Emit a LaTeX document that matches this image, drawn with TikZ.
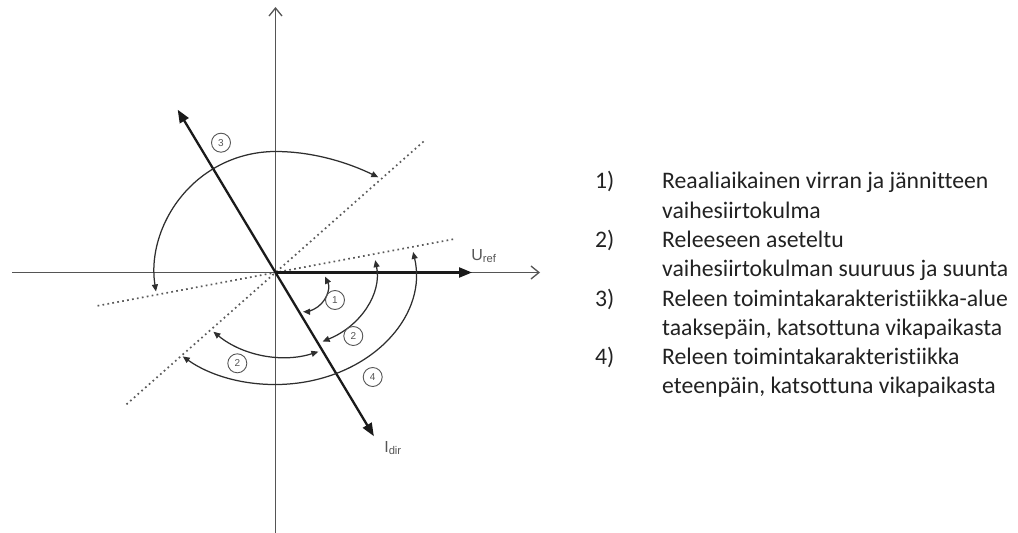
\documentclass[tikz,border=0pt]{standalone}
\usepackage{fontspec}
\setmainfont{Carlito}[Ligatures=NoCommon]
\newfontfamily\lblfont{Liberation Sans}
\usetikzlibrary{arrows.meta,calc}
\definecolor{axisgray}{HTML}{555555}
\definecolor{vecblack}{HTML}{1A1A1A}
\definecolor{arcgray}{HTML}{2E2E2E}
\definecolor{dotgray}{HTML}{5A5A5A}
\definecolor{txtgray}{HTML}{222222}
\begin{document}
\begin{tikzpicture}[x=1pt,y=1pt,
  axis/.style={draw=axisgray,line width=1.3pt,-{Straight Barb[length=8pt,width=13pt]}},
  vec/.style={draw=vecblack,line width=2.3pt},
  dotline/.style={draw=dotgray,line width=1.7pt,dash pattern=on 1.7pt off 3.3pt},
  arcarrow/.style={draw=arcgray,line width=1.25pt,{Triangle[length=7pt,width=6pt]}-{Triangle[length=7pt,width=6pt]}},
  circnum/.style={draw=axisgray,circle,line width=0.9pt,inner sep=0pt,minimum size=19pt,font=\lblfont\fontsize{10}{10}\selectfont,text=axisgray},
  lbl/.style={font=\lblfont\fontsize{16}{16}\selectfont,text=axisgray,inner sep=0pt},
  leg/.style={anchor=base west,inner sep=0pt,text=txtgray,font=\fontsize{23.7}{29.3}\selectfont}]
\path[use as bounding box] (0,0) rectangle (1018,-533);
\coordinate (O) at (275.5,-272.5);
% axes
\coordinate (yb) at (275.5,-533);
\coordinate (yt) at (275.5,-7);
\coordinate (xl) at (12,-272.5);
\coordinate (xr) at (540,-272.5);
\draw[axis] (yb) -- (yt);
\draw[axis] (xl) -- (xr);
% dotted lines
\coordinate (A1) at ($(O)+(190.6:181pt)$);
\coordinate (A2) at ($(O)+(10.6:181pt)$);
\coordinate (B1) at ($(O)+(221.5:199pt)$);
\coordinate (B2) at ($(O)+(41.5:199pt)$);
\draw[dotline] (A1) -- (A2);
\draw[dotline] (B1) -- (B2);
% vectors
\coordinate (U) at (472,-272.5);
\draw[vec,-{Triangle[length=13pt,width=10pt]}] (O) -- (U);
\coordinate (Iup) at ($(O)+(121:190pt)$);
\coordinate (Idn) at ($(O)+(-59:191pt)$);
\draw[vec,{Triangle[length=13pt,width=10pt]}-{Triangle[length=13pt,width=10pt]}] (Iup) -- (Idn);
\node[lbl] (uref) at (484,-256) {U\textsubscript{ref}};
\node[lbl] (idir) at (393,-448) {I\textsubscript{dir}};
% arcs
\coordinate (C1) at (303.1,-287.35);
\draw[arcarrow] ($(C1)+(26:24.4pt)$) arc[start angle=26,end angle=-90,radius=24.4pt];
\draw[arcarrow] ($(O)+(9.1:101pt and 78pt)$) arc[start angle=9.1,end angle=-62.2,x radius=101pt,y radius=78pt];
\coordinate (C2) at (284.2,-245.2);
\draw[arcarrow] ($(C2)+(-72.2:111.8pt)$) arc[start angle=-72.2,end angle=-129.3,radius=111.8pt];
\draw[arcarrow] ($(O)+(10.6:140pt and 112pt)$) arc[start angle=10.6,end angle=-131.5,x radius=140pt,y radius=112pt];
\coordinate (E3) at (378.3,-177.3);
\draw[arcarrow] ($(O)+(189:121pt)$) arc[start angle=189,end angle=90,radius=121pt]
  .. controls (315.5,-151.5) and (351.3,-164.1) .. (E3);
% circled numbers
\node[circnum] (c3) at (221,-142.7) {3};
\node[circnum] (c1) at (335,-300) {1};
\node[circnum] (c2r) at (353.3,-336) {2};
\node[circnum] (c2l) at (237.3,-363.3) {2};
\node[circnum] (c4) at (372.7,-377) {4};
% legend
\node[leg] (n1) at (595,-188.8) {1)};
\node[leg] (t1a) at (662,-188.8) {Reaaliaikainen virran ja jännitteen};
\node[leg] (t1b) at (662,-218.1) {vaihesiirtokulma};
\node[leg] (n2) at (595,-247.4) {2)};
\node[leg] (t2a) at (662,-247.4) {Releeseen aseteltu};
\node[leg] (t2b) at (662,-276.7) {vaihesiirtokulman suuruus ja suunta};
\node[leg] (n3) at (595,-306) {3)};
\node[leg] (t3a) at (662,-306) {Releen toimintakarakteristiikka-alue};
\node[leg] (t3b) at (662,-335.3) {taaksepäin, katsottuna vikapaikasta};
\node[leg] (n4) at (595,-364.6) {4)};
\node[leg] (t4a) at (662,-364.6) {Releen toimintakarakteristiikka};
\node[leg] (t4b) at (662,-393.9) {eteenpäin, katsottuna vikapaikasta};
\end{tikzpicture}
\end{document}
